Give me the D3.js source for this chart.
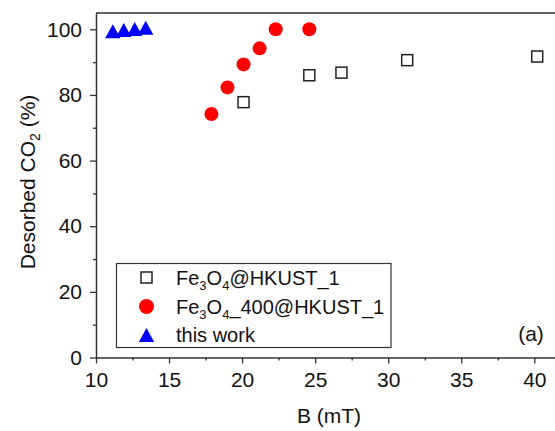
<!DOCTYPE html>
<html>
<head>
<meta charset="utf-8">
<script src="https://cdn.jsdelivr.net/npm/d3@7"></script>
<style>
  html, body { margin: 0; padding: 0; background: #fff; }
  svg { display: block; font-family: Arial, "Liberation Sans", sans-serif; }
</style>
</head>
<body>
<svg id="chart" width="555" height="431"></svg>
<script>
// data
var hkustB    = [20.1, 24.6, 26.8, 31.3, 40.2];
var hkustDes  = [77.8, 86.0, 86.8, 90.6, 91.7];
var fe400B    = [17.9, 19.0, 20.1, 21.2, 22.3, 24.6];
var fe400Des  = [74.2, 82.3, 89.3, 94.2, 100.0, 100.0];
var thisB     = [11.15, 11.9, 12.65, 13.4];
var thisDes   = [99.4, 99.8, 100.1, 100.5];
var xTicks = [10, 15, 20, 25, 30, 35, 40];
var yTicks = [0, 20, 40, 60, 80, 100];

// margins
var margin = { top: 13, right: -5, bottom: 73.5, left: 96 },
    width  = 555 - margin.left - margin.right,
    height = 431 - margin.top - margin.bottom;

var axisColor = '#333';

var svg = d3.select('#chart');
var g = svg.append('g').attr('transform', 'translate(' + margin.left + ',' + margin.top + ')');

var x = d3.scaleLinear().domain([10, 10 + width / 14.61]).range([0, width]);
var y = d3.scaleLinear().domain([0, height / 3.282]).range([height, 0]);

// frame (top line)
g.append('line').attr('x1', 0).attr('x2', width).attr('y1', 0).attr('y2', 0)
  .attr('stroke', axisColor).attr('stroke-width', 1.5);

// x axis: major + minor ticks
var xMinor = d3.range(12.5, 41, 5);
g.append('g').attr('transform', 'translate(0,' + height + ')')
  .call(d3.axisBottom(x).tickValues(xMinor).tickSize(3).tickFormat(''))
  .call(function(a){ a.select('.domain').remove(); a.selectAll('line').attr('stroke', axisColor).attr('stroke-width', 1.3); });
var xAxis = g.append('g').attr('transform', 'translate(0,' + height + ')')
  .call(d3.axisBottom(x).tickValues(xTicks).tickSize(6).tickSizeOuter(0).tickPadding(9));
xAxis.select('.domain').attr('stroke', axisColor).attr('stroke-width', 1.5);
xAxis.selectAll('line').attr('stroke', axisColor).attr('stroke-width', 1.3);
xAxis.selectAll('text').attr('font-size', '21px').attr('fill', '#111')
  .attr('font-family', 'Arial, "Liberation Sans", sans-serif');

// y axis
var yMinor = d3.range(10, 101, 20);
g.append('g')
  .call(d3.axisLeft(y).tickValues(yMinor).tickSize(3).tickFormat(''))
  .call(function(a){ a.select('.domain').remove(); a.selectAll('line').attr('stroke', axisColor).attr('stroke-width', 1.3); });
var yAxis = g.append('g')
  .call(d3.axisLeft(y).tickValues(yTicks).tickSize(6).tickSizeOuter(0).tickPadding(8));
yAxis.select('.domain').attr('stroke', axisColor).attr('stroke-width', 1.5);
yAxis.selectAll('line').attr('stroke', axisColor).attr('stroke-width', 1.3);
yAxis.selectAll('text').attr('font-size', '21px').attr('fill', '#111')
  .attr('font-family', 'Arial, "Liberation Sans", sans-serif');

// axis titles
svg.append('text')
  .attr('x', 329).attr('y', 423)
  .attr('text-anchor', 'middle')
  .attr('font-size', '21px').attr('fill', '#111')
  .text('B (mT)');

var yTitle = svg.append('text')
  .attr('transform', 'translate(35,182) rotate(-90)')
  .attr('text-anchor', 'middle')
  .attr('font-size', '21px').attr('fill', '#111');
yTitle.append('tspan').text('Desorbed CO');
yTitle.append('tspan').attr('font-size', '14px').attr('dy', 5).text('2');
yTitle.append('tspan').attr('dy', -5).text(' (%)');

// triangle centered on its bounding box
var triBox = {
  draw: function(ctx, size) {
    var s = Math.sqrt(size);
    ctx.moveTo(0, -s / 2);
    ctx.lineTo(s * 0.55, s / 2);
    ctx.lineTo(-s * 0.55, s / 2);
    ctx.closePath();
  }
};

var plot = g.append('g');

// Fe3O4@HKUST_1 (open squares)
plot.selectAll('.sq').data(d3.zip(hkustB, hkustDes)).enter().append('rect')
  .attr('class', 'sq')
  .attr('x', function(d){ return x(d[0]) - 5.5; })
  .attr('y', function(d){ return y(d[1]) - 5.5; })
  .attr('width', 11).attr('height', 11)
  .attr('fill', '#fff').attr('stroke', '#222').attr('stroke-width', 1.5);

// Fe3O4_400@HKUST_1 (red circles)
plot.selectAll('.ci').data(d3.zip(fe400B, fe400Des)).enter().append('circle')
  .attr('class', 'ci')
  .attr('cx', function(d){ return x(d[0]); })
  .attr('cy', function(d){ return y(d[1]); })
  .attr('r', 7)
  .attr('fill', '#ff0000');

// this work (blue triangles)
plot.selectAll('.tr').data(d3.zip(thisB, thisDes)).enter().append('path')
  .attr('class', 'tr')
  .attr('transform', function(d){ return 'translate(' + x(d[0]) + ',' + y(d[1]) + ')'; })
  .attr('d', d3.symbol().type(triBox).size(14 * 14))
  .attr('fill', '#0000ff');

// legend
var legend = svg.append('g');
legend.append('rect')
  .attr('x', 116.5).attr('y', 263.5).attr('width', 274.5).attr('height', 84)
  .attr('fill', '#fff').attr('stroke', '#333').attr('stroke-width', 1.2);

var legendRows = [
  { y: 277.5, parts: [['Fe'], ['3', 1], ['O'], ['4', 1], ['@HKUST_1']] },
  { y: 306.5, parts: [['Fe'], ['3', 1], ['O'], ['4', 1], ['_400@HKUST_1']] },
  { y: 335,   parts: [['this work']] }
];

legend.append('rect')
  .attr('x', 146.5 - 5.5).attr('y', legendRows[0].y - 5.5).attr('width', 11).attr('height', 11)
  .attr('fill', '#fff').attr('stroke', '#222').attr('stroke-width', 1.5);
legend.append('circle')
  .attr('cx', 146.5).attr('cy', legendRows[1].y).attr('r', 7.5).attr('fill', '#ff0000');
legend.append('path')
  .attr('transform', 'translate(146.5,' + legendRows[2].y + ')')
  .attr('d', d3.symbol().type(triBox).size(14 * 14))
  .attr('fill', '#0000ff');

legendRows.forEach(function(row) {
  var t = legend.append('text')
    .attr('x', 176).attr('y', row.y + 7)
    .attr('font-size', '20px').attr('fill', '#111');
  var down = false;
  row.parts.forEach(function(p) {
    var ts = t.append('tspan').text(p[0]);
    if (p[1] && !down) { ts.attr('font-size', '13px').attr('dy', 5); down = true; }
    else if (!p[1] && down) { ts.attr('dy', -5); down = false; }
    else if (p[1]) { ts.attr('font-size', '13px'); }
  });
});

// panel tag
svg.append('text')
  .attr('x', 531).attr('y', 341)
  .attr('text-anchor', 'middle')
  .attr('font-size', '21px').attr('fill', '#111')
  .text('(a)');
</script>
</body>
</html>
